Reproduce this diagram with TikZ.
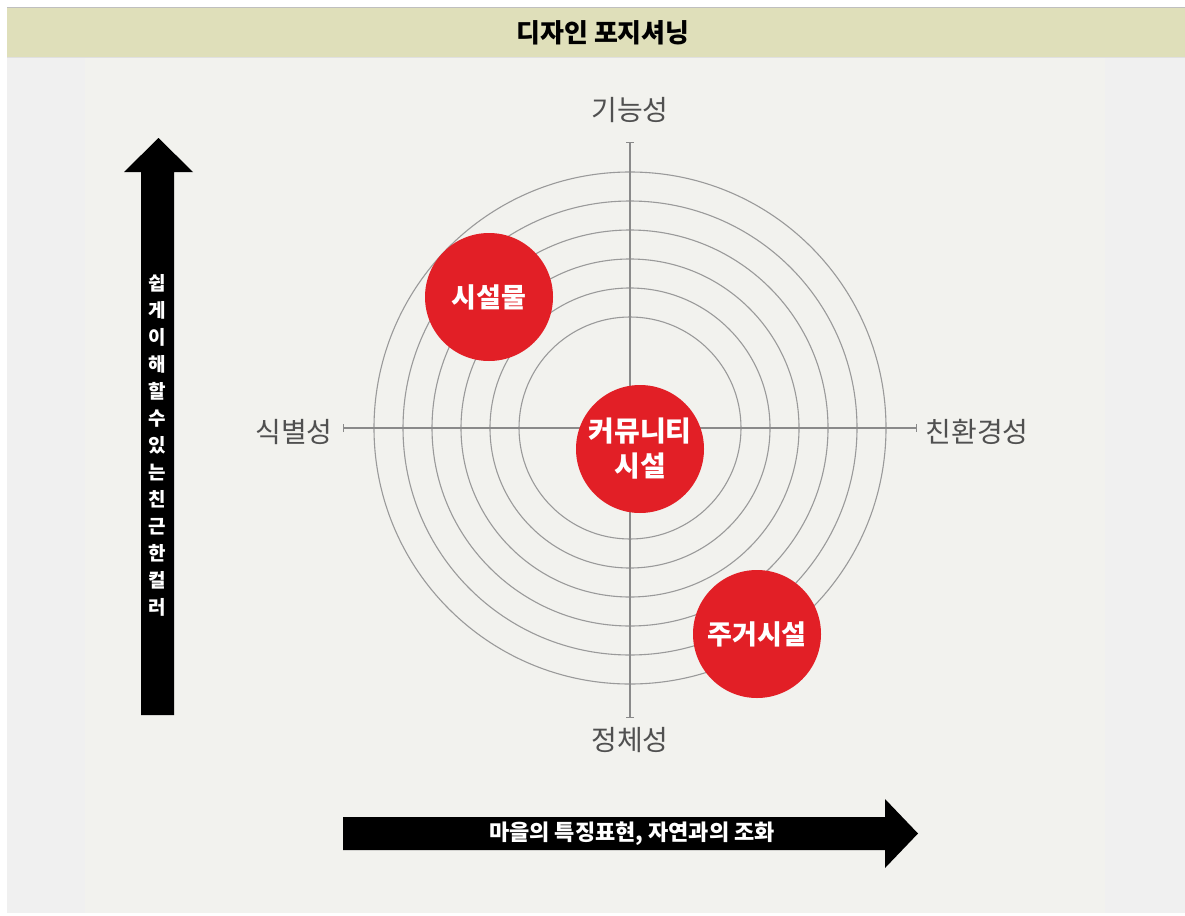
\documentclass[tikz,border=0pt]{standalone}
\usepackage{fontspec}
\setmainfont{Noto Sans CJK KR}
\usetikzlibrary{arrows.meta}
\definecolor{hdrbg}{HTML}{DFDFBA}
\definecolor{bodybg}{HTML}{F0F0F0}
\definecolor{innerbg}{HTML}{F2F2EE}
\definecolor{ringc}{HTML}{9A9A9A}
\definecolor{axisc}{HTML}{8A8A8A}
\definecolor{labc}{HTML}{505050}
\definecolor{redc}{HTML}{E21F26}
\tikzset{
  ring/.style={draw=ringc, line width=1.1pt},
  axisline/.style={draw=axisc, line width=1.1pt, {Bar[width=8pt]}-{Bar[width=8pt]}},
  axlabel/.style={text=labc, font=\fontsize{28}{32}\selectfont, inner sep=0pt},
  bubble/.style={circle, fill=redc, minimum size=128pt, inner sep=0pt, text=white,
    font=\fontsize{27}{35}\selectfont\bfseries, align=center},
  bigarrow/.style={fill=black},
  arrowtext/.style={text=white, font=\fontsize{22}{26}\selectfont\bfseries, inner sep=0pt, align=center}
}
\begin{document}
\begin{tikzpicture}[x=1pt,y=-1pt]
\useasboundingbox (0,0) rectangle (1185,915);
\fill[white] (0,0) rectangle (1185,915);
\fill[bodybg] (7,58) rectangle (1185,913);
\fill[innerbg] (85,58) rectangle (1105,913);
\fill[hdrbg] (7,8) rectangle (1185,58);
\draw[black!25, line width=1pt] (7,8) -- (1185,8);
\draw[black!12, line width=1pt] (7,58) -- (1185,58);
\node[font=\fontsize{26}{30}\selectfont\bfseries, inner sep=0pt] (title) at (603,33) {디자인 포지셔닝};

% rings
\coordinate (O) at (630,428);
\foreach \r in {111,140,169,198,227,256}
  \draw[ring] (O) circle[radius=\r pt];

% axes
\coordinate (T) at (630,142);
\coordinate (B) at (630,718);
\coordinate (L) at (343,428);
\coordinate (R) at (917,428);
\draw[axisline] (T) -- (B);
\draw[axisline] (L) -- (R);

\node[axlabel] (top) at (630,110) {기능성};
\node[axlabel] (left) at (294,432) {식별성};
\node[axlabel] (right) at (977,432) {친환경성};
\node[axlabel] (bottom) at (630,740) {정체성};

% bubbles
\node[bubble] (b1) at (489,297) {시설물};
\node[bubble, font=\fontsize{28}{35}\selectfont\bfseries] (b2) at (640,449) {커뮤니티\\시설};
\node[bubble] (b3) at (757,634) {주거시설};

% vertical arrow
\fill[bigarrow] (141,715) -- (141,172) -- (124,172) -- (158.5,138) -- (193,172) -- (174,172) -- (174,715) -- cycle;
\node[arrowtext, font=\fontsize{19}{27}\selectfont\bfseries] (vtext) at (157.5,445)
  {쉽\\게\\이\\해\\할\\수\\있\\는\\친\\근\\한\\컬\\러};

% horizontal arrow
\fill[bigarrow] (343,817) -- (885,817) -- (885,799) -- (918,833.5) -- (885,868) -- (885,850) -- (343,850) -- cycle;
\node[arrowtext] (htext) at (632,834) {마을의 특징표현, 자연과의 조화};
\end{tikzpicture}
\end{document}
